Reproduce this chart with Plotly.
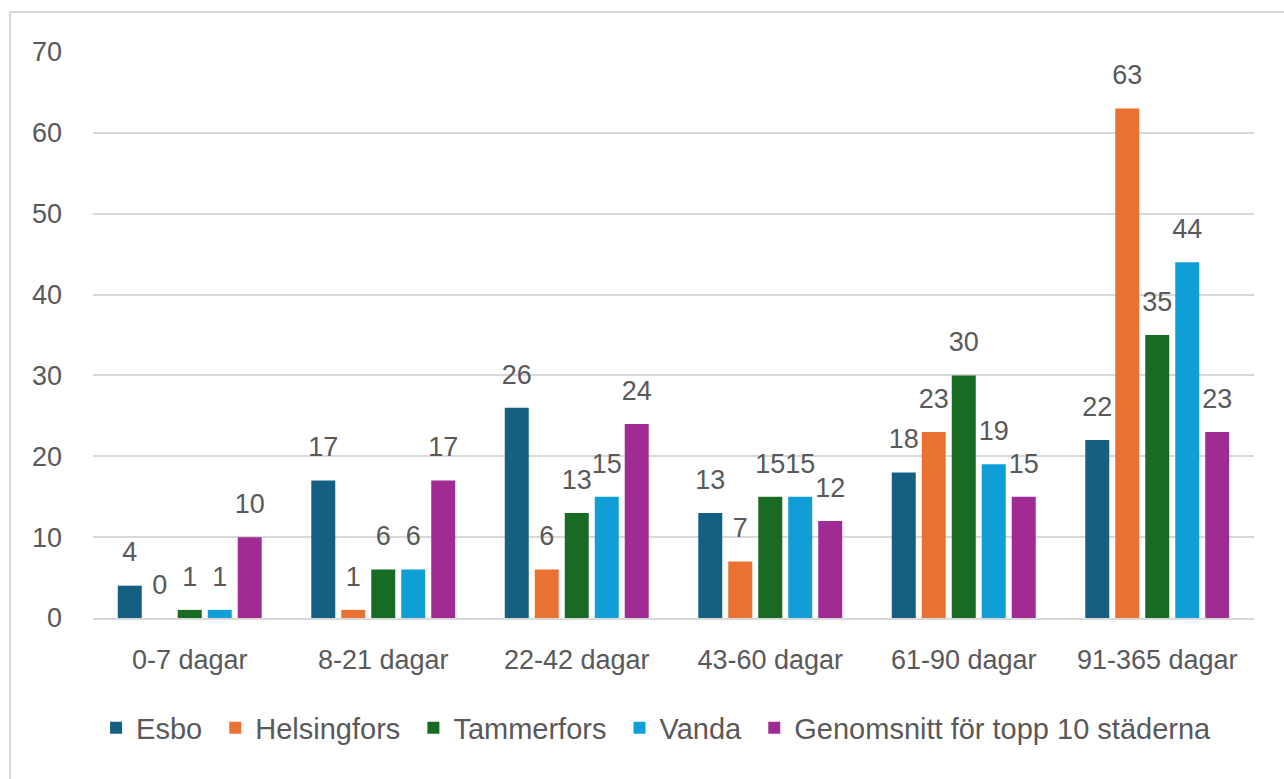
import plotly.graph_objects as go

categories = ["0-7 dagar", "8-21 dagar", "22-42 dagar", "43-60 dagar", "61-90 dagar", "91-365 dagar"]

esbo = [4, 17, 26, 13, 18, 22]
helsingfors = [0, 1, 6, 7, 23, 63]
tammerfors = [1, 6, 13, 15, 30, 35]
vanda = [1, 6, 15, 15, 19, 44]
genomsnitt = [10, 17, 24, 12, 15, 23]

series = [
    ("Esbo", esbo, "#156082"),
    ("Helsingfors", helsingfors, "#E97132"),
    ("Tammerfors", tammerfors, "#196B24"),
    ("Vanda", vanda, "#0F9ED5"),
    ("Genomsnitt för topp 10 städerna", genomsnitt, "#A02B93"),
]

FONT = "Liberation Sans"
GREY = "#595959"

fig = go.Figure()
for i, (name, vals, color) in enumerate(series):
    # second (invisible) line lifts the label a bit above the bar, like Excel does
    labels = [f"<span style='font-size:27px'>{v}</span><br><span style='color:rgba(0,0,0,0)'>.</span>"
              for v in vals]
    # a trailing nbsp widens the gap between legend entries
    legend_name = name + ("\u00a0" if i < len(series) - 1 else "")
    fig.add_trace(go.Bar(
        x=categories, y=vals, name=legend_name,
        marker=dict(color=color, line=dict(width=0)),
        text=labels, textposition="outside", textangle=0,
        constraintext="none", cliponaxis=False,
        textfont=dict(family=FONT, size=14, color=GREY),
        hovertemplate=name + "<br>%{x}: %{y}<extra></extra>",
    ))

# plot area in px: x 93..1254, y 52..618
W, H = 1284, 779
l, r, t, b = 93, 30, 52, 161
pw, ph = W - l - r, H - t - b
bx0 = (10 - l) / pw
by1 = 1 + (t - 12) / ph

fig.update_layout(
    width=W, height=H,
    margin=dict(l=l, r=r, t=t, b=b),
    paper_bgcolor="white", plot_bgcolor="white",
    barmode="group", bargap=0.225, bargroupgap=0.2,
    font=dict(family=FONT, size=27, color=GREY),
    legend=dict(
        orientation="h", x=0.485, xanchor="center", y=-0.194, yanchor="middle",
        font=dict(family=FONT, size=29, color=GREY),
        itemwidth=30, traceorder="normal",
    ),
    xaxis=dict(
        showgrid=False, showline=True, linecolor="#d9d9d9", linewidth=2,
        ticks="", ticklabelstandoff=17,
        tickfont=dict(family=FONT, size=27, color=GREY),
    ),
    yaxis=dict(
        range=[0, 70], dtick=10, showgrid=True, gridcolor="#d9d9d9", gridwidth=2,
        zeroline=False, showline=False, ticks="", ticklabelstandoff=30,
        tickfont=dict(family=FONT, size=27, color=GREY),
    ),
    shapes=[
        dict(type="line", xref="paper", yref="paper", x0=bx0, x1=bx0, y0=by1, y1=-(b / ph),
             line=dict(color="#d9d9d9", width=2)),
        dict(type="line", xref="paper", yref="paper", x0=bx0, x1=1 + r / pw, y0=by1, y1=by1,
             line=dict(color="#d9d9d9", width=2)),
    ],
)

fig.write_html("out.html", config={"displayModeBar": False},
               post_script="document.body.style.margin='0';")
